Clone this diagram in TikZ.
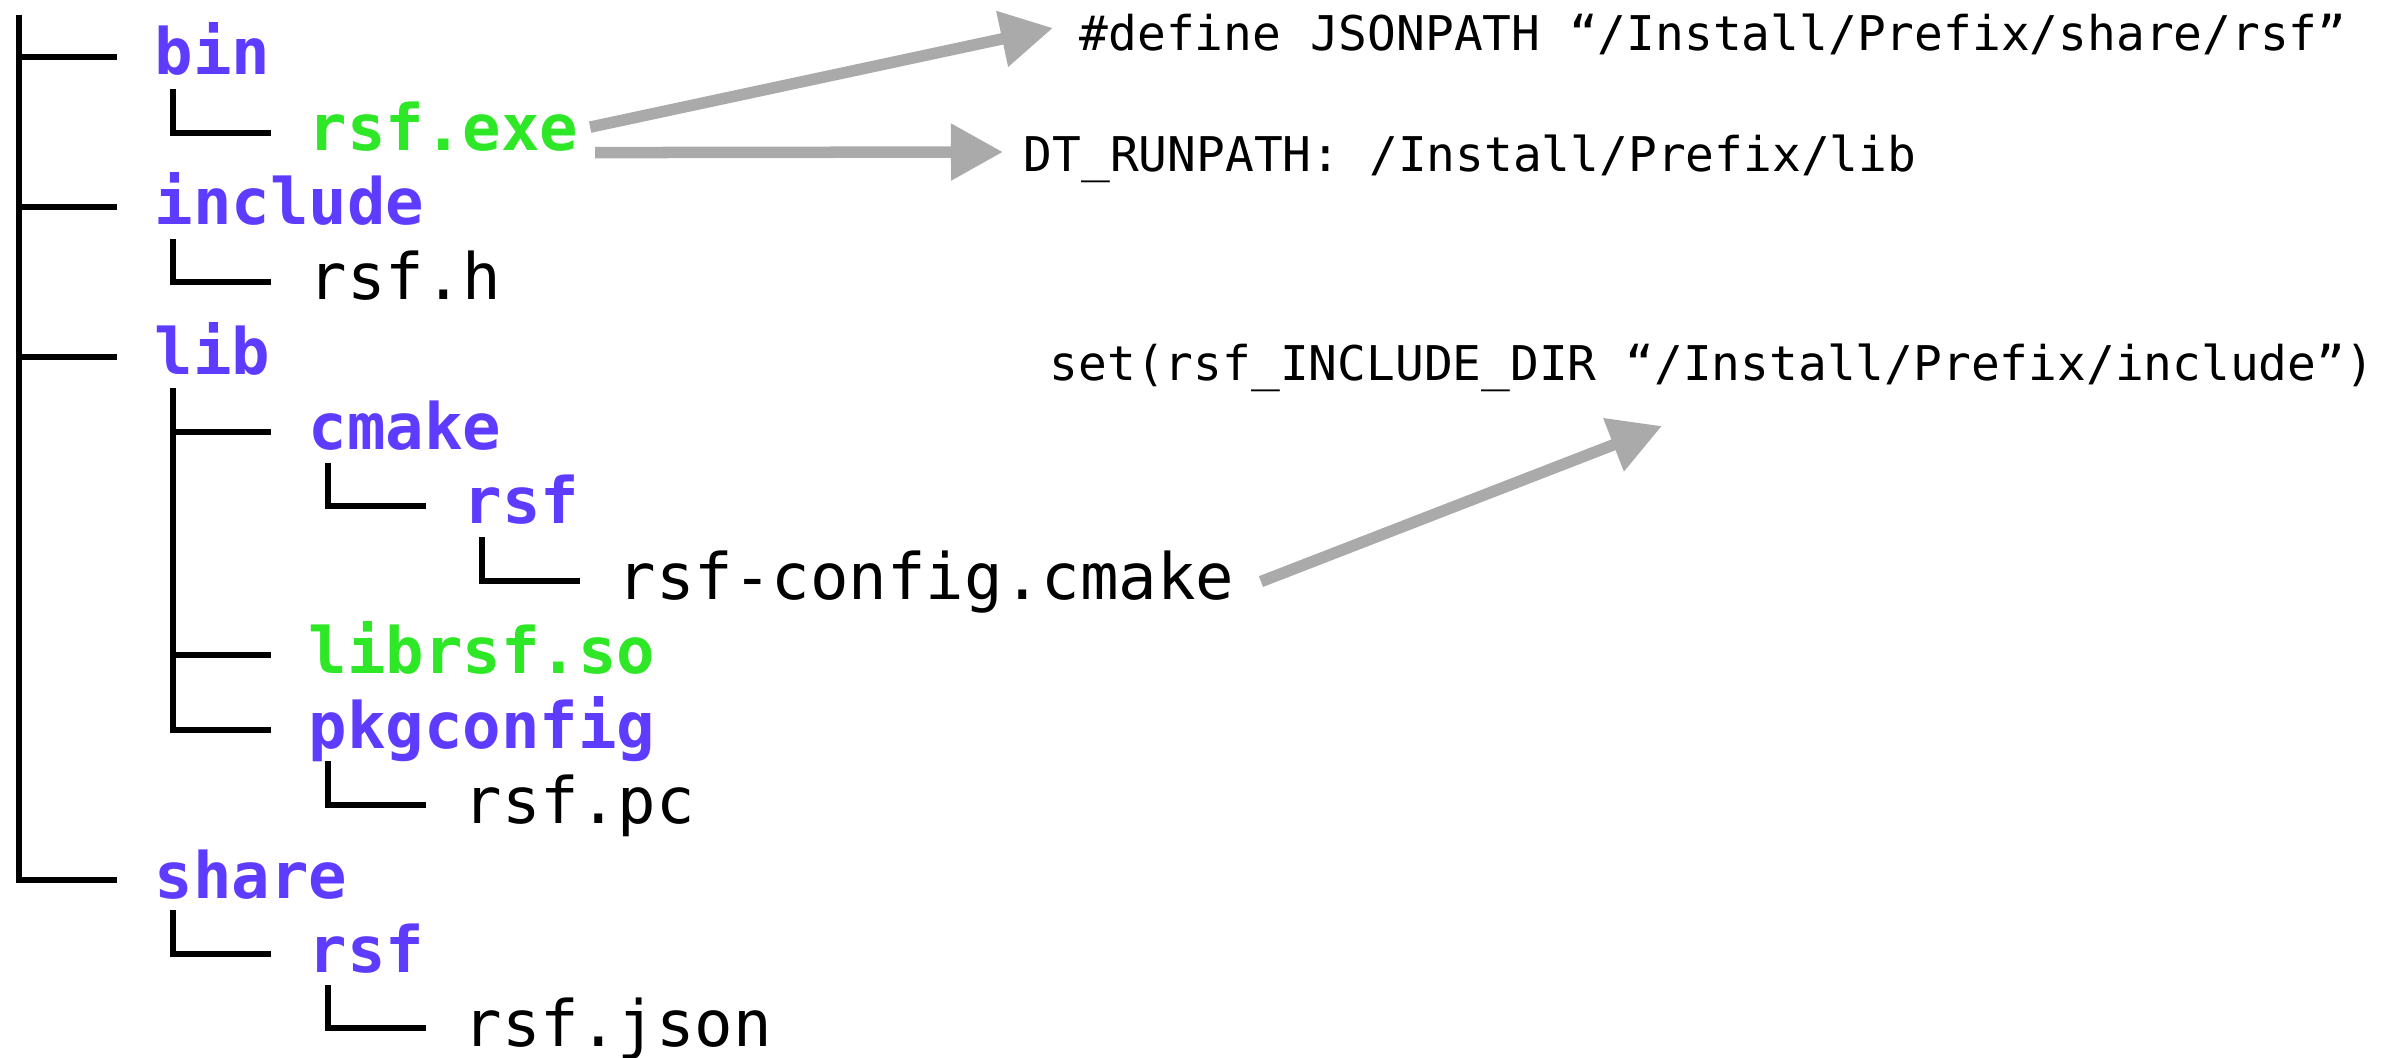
\documentclass[tikz,border=0pt]{standalone}
\usepackage{fontspec}
\setmonofont{DejaVu Sans Mono}
\usetikzlibrary{arrows.meta}

\definecolor{dircol}{RGB}{94,60,255}
\definecolor{bincol}{RGB}{46,232,40}
\definecolor{arrowgray}{RGB}{170,170,170}

\begin{document}
\begin{tikzpicture}[x=0.01cm,y=-0.01cm,
  entry/.style={anchor=base west,inner sep=0pt,font=\fontsize{18.2}{18.2}\selectfont\ttfamily},
  dir/.style={entry,text=dircol,font=\fontsize{18.2}{18.2}\selectfont\ttfamily\bfseries},
  binfile/.style={entry,text=bincol,font=\fontsize{18.2}{18.2}\selectfont\ttfamily\bfseries},
  note/.style={anchor=base west,inner sep=0pt,font=\fontsize{13.6}{13.6}\selectfont\ttfamily},
  branch/.style={line width=0.065cm},
  pointer/.style={draw=arrowgray,line width=0.115cm,-{Triangle[length=0.52cm,width=0.54cm]}}]
\useasboundingbox (0,0) rectangle (2406,1058);
% tree guide lines
\draw[branch] (19,15) -- (19,880) -- (117,880);
\draw[branch] (19,57) -- (117,57);
\draw[branch] (19,207) -- (117,207);
\draw[branch] (19,357) -- (117,357);
\draw[branch] (173,89) |- (271,133);
\draw[branch] (173,239) |- (271,282);
\draw[branch] (173,388) -- (173,730) -- (271,730);
\draw[branch] (173,432) -- (271,432);
\draw[branch] (173,655) -- (271,655);
\draw[branch] (173,910) |- (271,954);
\draw[branch] (328,463) |- (426,506);
\draw[branch] (328,761) |- (426,805);
\draw[branch] (328,985) |- (426,1028);
\draw[branch] (482,537) |- (580,581);
% entries
\node[dir] (bin) at (154,75) {bin};
\node[binfile] (exe) at (308,151) {rsf.exe};
\node[dir] (include) at (154,225) {include};
\node[entry] (header) at (308,300) {rsf.h};
\node[dir] (lib) at (154,375) {lib};
\node[dir] (cmake) at (308,450) {cmake};
\node[dir] (cmakersf) at (463,524) {rsf};
\node[entry] (cfg) at (617,599) {rsf-config.cmake};
\node[binfile] (so) at (308,673) {librsf.so};
\node[dir] (pkgconfig) at (308,748) {pkgconfig};
\node[entry] (pc) at (463,823) {rsf.pc};
\node[dir] (share) at (154,898) {share};
\node[dir] (sharersf) at (308,972) {rsf};
\node[entry] (json) at (463,1046) {rsf.json};
% notes
\node[note] (define) at (1079,51) {\#define JSONPATH “/Install/Prefix/share/rsf”};
\node[note] (runpath) at (1023,172) {DT\_RUNPATH: /Install/Prefix/lib};
\node[note] (setdir) at (1049,381) {set(rsf\_INCLUDE\_DIR “/Install/Prefix/include”)};
\coordinate (tipA) at (1053,28);
\coordinate (tipB) at (1003,152);
\coordinate (tipC) at (1662,426);
\draw[pointer] ([xshift=0.11cm]exe.east) -- (tipA);
\draw[pointer] ([xshift=0.16cm]exe.south east) -- (tipB);
\draw[pointer] ([xshift=0.26cm]cfg.east) -- (tipC);
\end{tikzpicture}
\end{document}
